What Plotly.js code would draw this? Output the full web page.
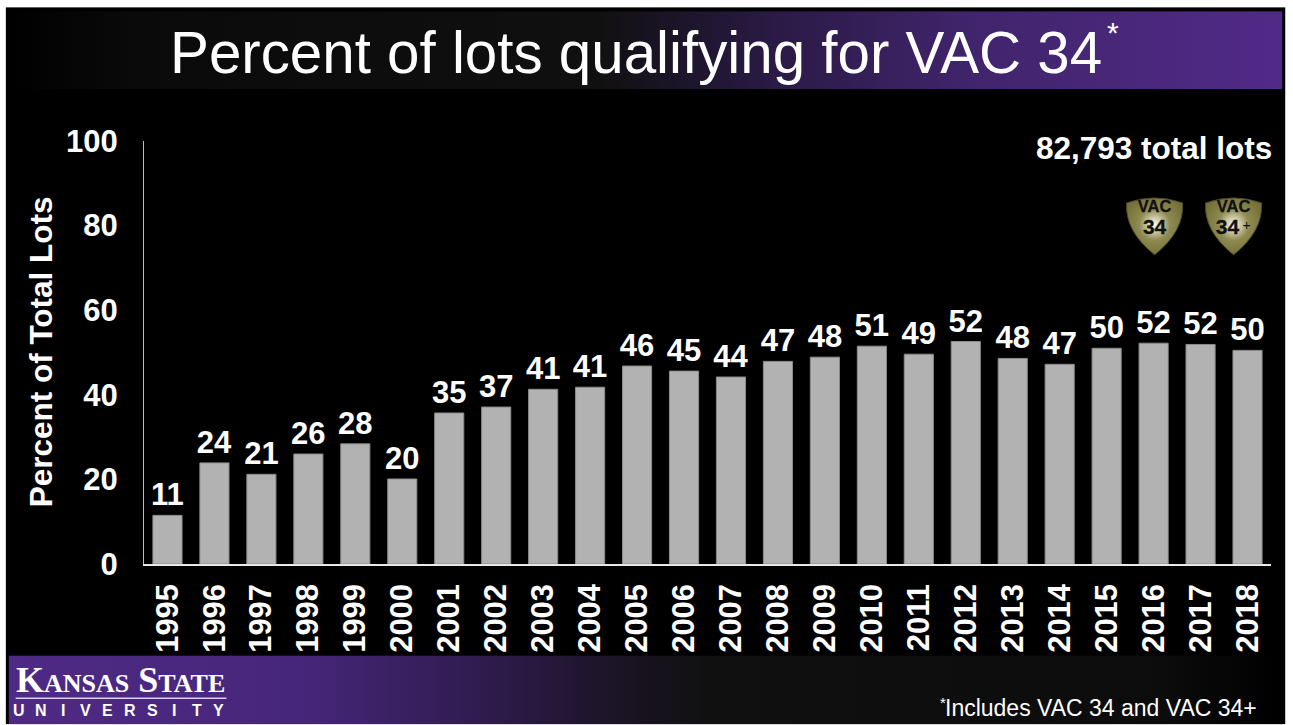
<!DOCTYPE html>
<html>
<head>
<meta charset="utf-8">
<script src="https://cdn.plot.ly/plotly-3.0.1.min.js"></script>
<style>html,body{margin:0;padding:0;background:#fff;overflow:hidden}#chart{width:1293px;height:725px}</style>
</head>
<body>
<div id="chart"></div>
<script>
const years = ["1995","1996","1997","1998","1999","2000","2001","2002","2003","2004","2005","2006","2007","2008","2009","2010","2011","2012","2013","2014","2015","2016","2017","2018"];
const barValues = [11.5,23.9,21.2,26,28.4,20.1,35.7,37.1,41.3,41.8,46.8,45.6,44.2,47.9,48.9,51.5,49.6,52.6,48.6,47.2,51,52.2,51.9,50.5];
const barLabels = ["11","24","21","26","28","20","35","37","41","41","46","45","44","47","48","51","49","52","48","47","50","52","52","50"];
const yTicks = [0,20,40,60,80,100];
const FONT = '"Liberation Sans", Arial, sans-serif';

function svgUri(w,h,body){
  return 'data:image/svg+xml;utf8,' + encodeURIComponent('<svg xmlns="http://www.w3.org/2000/svg" width="'+w+'" height="'+h+'" viewBox="0 0 '+w+' '+h+'">'+body+'</svg>');
}
function px(x,y,w,h,src,layer){
  return {source:src,xref:'paper',yref:'paper',xanchor:'left',yanchor:'top',sizing:'stretch',layer:layer||'below',
    x:(x-143.5)/1128, y:1-(y-141)/423.5, sizex:w/1128, sizey:h/423.5};
}
const panel = svgUri(1281,718,'<rect width="1281" height="718" fill="#000"/>');
const banner = svgUri(1275,78,'<defs><linearGradient id="g"><stop offset="0" stop-color="#000"/><stop offset="0.1" stop-color="#0a0a0a"/><stop offset="0.46" stop-color="#101010"/><stop offset="0.6" stop-color="#2a1a45"/><stop offset="0.75" stop-color="#40246b"/><stop offset="1" stop-color="#512a88"/></linearGradient></defs><rect width="1275" height="78" fill="url(#g)"/>');
const footer = svgUri(1275,69,'<defs><linearGradient id="f"><stop offset="0" stop-color="#4f2a85"/><stop offset="0.23" stop-color="#46267a"/><stop offset="0.39" stop-color="#2c1a48"/><stop offset="0.47" stop-color="#1c1428"/><stop offset="0.55" stop-color="#101010"/><stop offset="0.9" stop-color="#0c0c0c"/><stop offset="1" stop-color="#000"/></linearGradient></defs><rect width="1275" height="69" fill="url(#f)"/>');
function shield(lines){
  return svgUri(60,62,'<defs><radialGradient id="s" cx="0.5" cy="0.47" r="0.55"><stop offset="0" stop-color="#fbfaf0"/><stop offset="0.22" stop-color="#cfcca8"/><stop offset="0.5" stop-color="#8f8a52"/><stop offset="1" stop-color="#757038"/></radialGradient></defs>'
   +'<path d="M2 6 Q16 1 30 1 Q44 1 58 6 Q60 34 30 58 Q0 34 2 6Z" fill="url(#s)" stroke="#4d4a26" stroke-width="1"/>'+lines);
}
const lineStyle='font-family="Liberation Sans" font-weight="bold" fill="#111" stroke="#111" stroke-width="0.3" text-anchor="middle"';
const shield34 = shield('<text x="30" y="15" font-size="16.5" '+lineStyle+'>VAC</text><text x="30" y="37" font-size="21" '+lineStyle+'>34</text>');
const shield34p = shield('<text x="30" y="15" font-size="16.5" '+lineStyle+'>VAC</text><text x="24" y="37" font-size="21" '+lineStyle+'>34</text><text x="43" y="33" font-size="14" font-family="Liberation Sans" fill="#111" text-anchor="middle">+</text>');

function note(x,y,text,size,extra){
  return Object.assign({xref:'paper',yref:'paper',x:(x-143.5)/1128,y:1-(y-141)/423.5,text:text,showarrow:false,
    xanchor:'left',yanchor:'middle',font:{family:FONT,size:size,color:'#fff'}},extra||{});
}
const letters = "UNIVERSITY".split("");
const annotations = [
  note(168,52,'Percent of lots qualifying for VAC 34',58.3),
  note(1105,32,'*',30),
  note(1275,148,'<b>82,793 total lots</b>',31.5,{xanchor:'right'}),
  note(13,681,'K<span style="font-size:26px">ANSAS</span> S<span style="font-size:26px">TATE</span>',36,{font:{family:'"Liberation Serif", serif',size:36,color:'#fff',weight:700}}),
  note(938,703,'*',15),
  note(943,708.5,'Includes VAC 34 and VAC 34+',23),
  note(40,352,'<b>Percent of Total Lots</b>',31.5,{xanchor:'center',textangle:-90})
].concat(letters.map((c,i)=>note(18.5+i*22.2,711,'<b>'+c+'</b>',16,{xanchor:'center'})));

const data = [{
  type:'bar',x:years,y:barValues,text:barLabels,textposition:'outside',cliponaxis:false,constraintext:'none',
  textfont:{family:FONT,size:31,color:'#fff',weight:700},
  marker:{color:'#b2b2b2',line:{color:'#8c8c8c',width:1}},hoverinfo:'skip'
}];
const layout = {
  width:1293,height:725,margin:{l:143.5,r:21.5,t:141,b:160.5,autoexpand:false},
  paper_bgcolor:'#fff',plot_bgcolor:'rgba(0,0,0,0)',bargap:0.38,showlegend:false,
  font:{family:FONT,color:'#fff'},
  xaxis:{type:'category',tickmode:'array',tickvals:years,ticktext:years,tickangle:-90,ticks:'',ticklabelstandoff:6,
    showgrid:false,zeroline:false,showline:true,linecolor:'#e8e8e8',linewidth:1.5,
    tickfont:{family:FONT,size:31,color:'#fff',weight:700},automargin:false,fixedrange:true},
  yaxis:{range:[0,100],tickmode:'array',tickvals:yTicks,ticktext:yTicks.map(String),ticks:'',ticklabelstandoff:19,
    showgrid:false,zeroline:false,showline:true,linecolor:'#bdbdbd',linewidth:1,
    tickfont:{family:FONT,size:31,color:'#fff',weight:700},automargin:false,fixedrange:true},
  images:[
    px(5,7,1281,718,panel),
    px(8,11,1275,78,banner),
    px(8,656,1275,69,footer),
    px(1125,197,60,62,shield34,'above'),
    px(1204,197,60,62,shield34p,'above')
  ],
  shapes:[{type:'line',xref:'paper',yref:'paper',x0:(15-143.5)/1128,x1:(226-143.5)/1128,y0:1-(699-141)/423.5,y1:1-(699-141)/423.5,line:{color:'#d8d0e6',width:1.5}}],
  annotations:annotations
};
Plotly.newPlot('chart',data,layout,{displayModeBar:false,staticPlot:true});
</script>
</body>
</html>
